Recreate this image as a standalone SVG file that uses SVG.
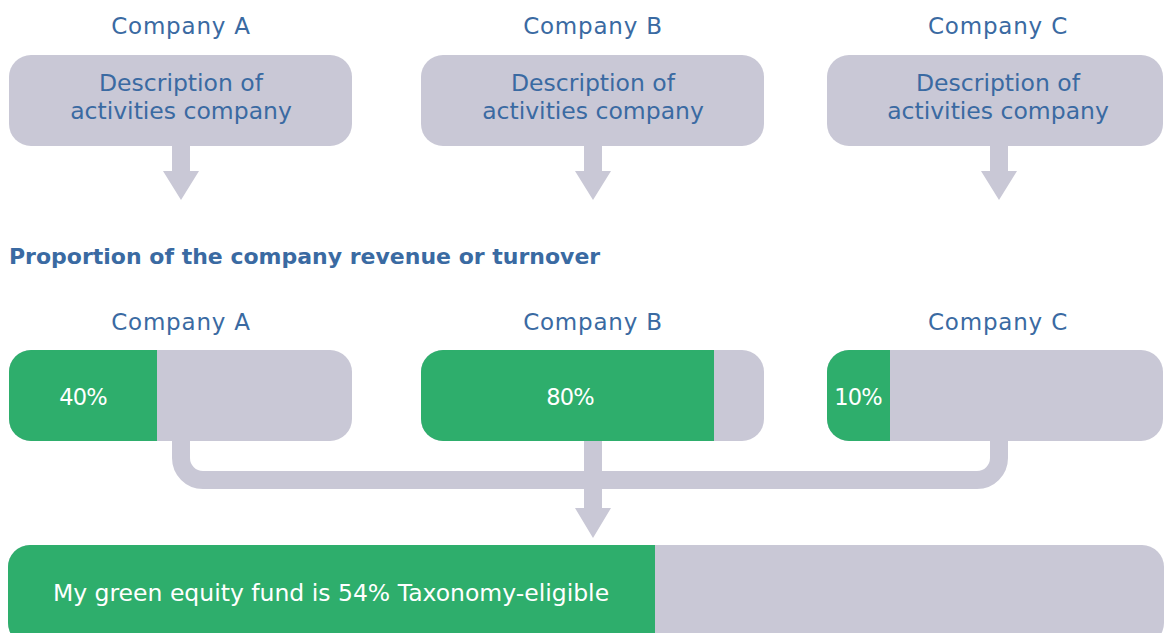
<svg xmlns="http://www.w3.org/2000/svg" width="1164" height="633" viewBox="0 0 1164 633">
<style>
.t{font-family:"DejaVu Sans","Liberation Sans",sans-serif;fill:#3a6aa2;text-anchor:middle}
.h{font-size:23px;letter-spacing:0.8px}
.d{font-size:23.5px}
.w{font-family:"DejaVu Sans","Liberation Sans",sans-serif;fill:#ffffff;text-anchor:middle}
.p{font-size:22.5px;letter-spacing:-0.8px}
.g{fill:#c9c8d6}
.gr{fill:#2eae6c}
</style>
<defs>
<clipPath id="cA"><rect x="9" y="350" width="343" height="91" rx="22"/></clipPath>
<clipPath id="cB"><rect x="421" y="350" width="343" height="91" rx="22"/></clipPath>
<clipPath id="cC"><rect x="827" y="350" width="336" height="91" rx="22"/></clipPath>
<clipPath id="cF"><rect x="8" y="545" width="1156" height="100" rx="22"/></clipPath>
</defs>
<g id="connectors" fill="#c9c8d6">
<path d="M172 146H190V171H199L181 200L163 171H172Z"/>
<path d="M584 146H602V171H611L593 200L575 171H584Z"/>
<path d="M990 146H1008V171H1017L999 200L981 171H990Z"/>
<path d="M181 441V458A22 22 0 0 0 203 480H977A22 22 0 0 0 999 458V441" fill="none" stroke="#c9c8d6" stroke-width="18"/>
<path d="M584 441H602V508H611L593 538L575 508H584Z"/>
</g>
<g id="topA"><text class="t h" x="181" y="34">Company A</text><rect class="g" x="9" y="55" width="343" height="91" rx="22"/><text class="t d" x="181" y="91">Description of</text><text class="t d" x="181" y="119">activities company</text></g>
<g id="topB"><text class="t h" x="593" y="34">Company B</text><rect class="g" x="421" y="55" width="343" height="91" rx="22"/><text class="t d" x="593" y="91">Description of</text><text class="t d" x="593" y="119">activities company</text></g>
<g id="topC"><text class="t h" x="998" y="34">Company C</text><rect class="g" x="827" y="55" width="336" height="91" rx="22"/><text class="t d" x="998" y="91">Description of</text><text class="t d" x="998" y="119">activities company</text></g>
<text id="title" x="9" y="264" style="font-family:'DejaVu Sans','Liberation Sans',sans-serif;font-weight:700;font-size:22px;fill:#3a6aa2">Proportion of the company revenue or turnover</text>
<g id="barA"><text class="t h" x="181" y="330">Company A</text><g clip-path="url(#cA)"><rect class="g" x="9" y="350" width="343" height="91"/><rect class="gr" x="9" y="350" width="148" height="91"/></g><text class="w p" x="83" y="405">40%</text></g>
<g id="barB"><text class="t h" x="593" y="330">Company B</text><g clip-path="url(#cB)"><rect class="g" x="421" y="350" width="343" height="91"/><rect class="gr" x="421" y="350" width="293" height="91"/></g><text class="w p" x="570" y="405">80%</text></g>
<g id="barC"><text class="t h" x="998" y="330">Company C</text><g clip-path="url(#cC)"><rect class="g" x="827" y="350" width="336" height="91"/><rect class="gr" x="827" y="350" width="63" height="91"/></g><text class="w p" x="858" y="405">10%</text></g>
<g id="fund"><g clip-path="url(#cF)"><rect class="g" x="8" y="545" width="1156" height="100"/><rect class="gr" x="8" y="545" width="647" height="100"/></g><text class="w" x="331" y="601" style="font-size:23.5px">My green equity fund is 54% Taxonomy-eligible</text></g>
</svg>
